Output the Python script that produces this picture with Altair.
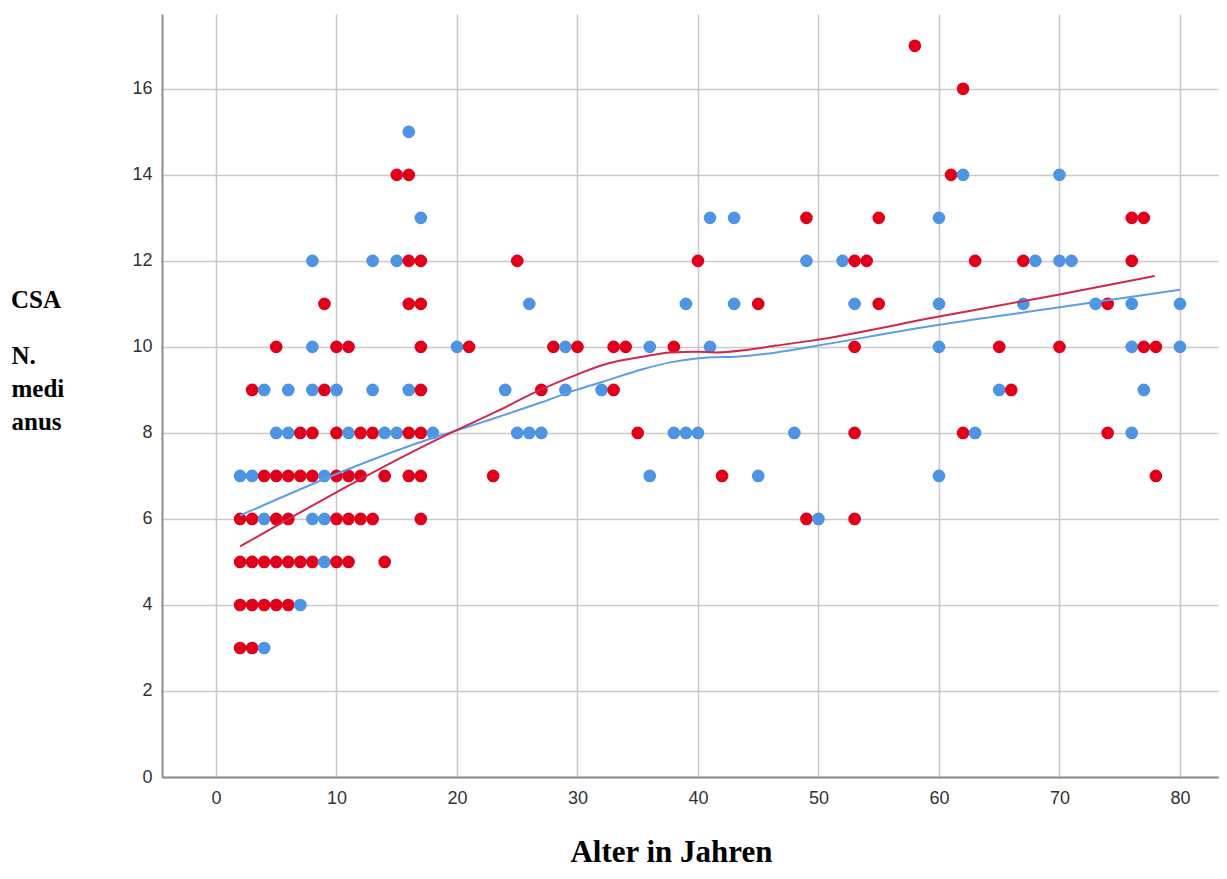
import altair as alt
import pandas as pd

# ---- scatter data (age in years, CSA N. medianus) ----
blue_age = [4, 7, 9, 4, 8, 9, 50, 2, 3, 9, 36, 45, 60,
            5, 6, 11, 14, 15, 18, 25, 26, 27, 38, 39, 40, 48, 63, 76,
            4, 6, 8, 10, 13, 16, 24, 29, 32, 65, 77,
            8, 20, 29, 36, 41, 60, 76, 80,
            26, 39, 43, 53, 60, 67, 73, 76, 80,
            8, 13, 15, 49, 52, 68, 70, 71,
            17, 41, 43, 60,
            62, 70,
            16]
blue_val = [3, 4, 5, 6, 6, 6, 6, 7, 7, 7, 7, 7, 7,
            8, 8, 8, 8, 8, 8, 8, 8, 8, 8, 8, 8, 8, 8, 8,
            9, 9, 9, 9, 9, 9, 9, 9, 9, 9, 9,
            10, 10, 10, 10, 10, 10, 10, 10,
            11, 11, 11, 11, 11, 11, 11, 11, 11,
            12, 12, 12, 12, 12, 12, 12, 12,
            13, 13, 13, 13,
            14, 14,
            15]

red_age = [2, 3,
           2, 3, 4, 5, 6,
           2, 3, 4, 5, 6, 7, 8, 10, 11, 14,
           2, 3, 5, 6, 10, 11, 12, 13, 17, 49, 53,
           4, 5, 6, 7, 8, 10, 11, 12, 14, 16, 17, 23, 42, 78,
           7, 8, 10, 12, 13, 16, 17, 35, 53, 62, 74,
           3, 9, 17, 27, 33, 66,
           5, 10, 11, 17, 21, 28, 30, 33, 34, 38, 53, 65, 70, 77, 78,
           9, 16, 17, 45, 55, 74,
           16, 17, 25, 40, 53, 54, 63, 67, 76,
           49, 55, 76, 77,
           15, 16, 61,
           62,
           58]
red_val = [3, 3,
           4, 4, 4, 4, 4,
           5, 5, 5, 5, 5, 5, 5, 5, 5, 5,
           6, 6, 6, 6, 6, 6, 6, 6, 6, 6, 6,
           7, 7, 7, 7, 7, 7, 7, 7, 7, 7, 7, 7, 7, 7,
           8, 8, 8, 8, 8, 8, 8, 8, 8, 8, 8,
           9, 9, 9, 9, 9, 9,
           10, 10, 10, 10, 10, 10, 10, 10, 10, 10, 10, 10, 10, 10, 10,
           11, 11, 11, 11, 11, 11,
           12, 12, 12, 12, 12, 12, 12, 12, 12,
           13, 13, 13, 13,
           14, 14, 14,
           16,
           17]

# ---- fit lines ----
blue_fit_age = [2, 18.3, 20, 23.3, 26.9, 29.9, 32.1, 35.4, 37.7, 39.9, 44, 46.5, 49.3, 59.9, 70, 80]
blue_fit_val = [6.08, 7.91, 8.06, 8.36, 8.7, 9.0, 9.19, 9.48, 9.64, 9.73, 9.79, 9.87, 10.0, 10.51, 10.92, 11.33]
red_fit_age = [2, 19.4, 23.3, 26.9, 29.9, 32.1, 35.4, 37.7, 39.9, 41.5, 44, 46.5, 49.3, 59.9, 70, 77.9]
red_fit_val = [5.36, 7.99, 8.5, 9.0, 9.35, 9.58, 9.77, 9.87, 9.89, 9.87, 9.93, 10.03, 10.14, 10.7, 11.22, 11.65]

groups = ["Gruppe 1", "Gruppe 2"]
point_colors = ["#4f93e3", "#e0001c"]
line_colors = ["#5c9ceb", "#d2264b"]

pts = pd.concat([
    pd.DataFrame({"Alter": blue_age, "CSA": blue_val, "Gruppe": groups[0]}),
    pd.DataFrame({"Alter": red_age, "CSA": red_val, "Gruppe": groups[1]}),
], ignore_index=True)
pts["order"] = range(len(pts))
pts = pts.sort_values(["Alter", "order"], kind="stable").reset_index(drop=True)

fits = pd.concat([
    pd.DataFrame({"Alter": blue_fit_age, "CSA": blue_fit_val, "Gruppe": groups[0]}),
    pd.DataFrame({"Alter": red_fit_age, "CSA": red_fit_val, "Gruppe": groups[1]}),
], ignore_index=True)

x_scale = alt.Scale(domain=[-4.48, 83.24], nice=False, zero=False)
y_scale = alt.Scale(domain=[0, 17.74], nice=False)

serif = "Liberation Serif"

x_enc = alt.X(
    "Alter:Q", scale=x_scale,
    axis=alt.Axis(
        values=list(range(0, 81, 10)), title="Alter in Jahren",
        titleFont=serif, titleFontSize=31, titleFontWeight="bold",
        titleColor="#000000", titleAnchor="start", titleAlign="center",
        titleX=509, titleY=84, titleBaseline="alphabetic",
        labelPadding=12,
    ),
)
y_enc = alt.Y(
    "CSA:Q", scale=y_scale,
    axis=alt.Axis(
        values=list(range(0, 17, 2)), title=["N.", "medi", "anus"],
        titleFont=serif, titleFontSize=25, titleFontWeight="bold",
        titleColor="#000000", titleAngle=0, titleAlign="left",
        titleBaseline="alphabetic", titleX=-151, titleY=349, titleLineHeight=33,
        labelPadding=10,
    ),
)

points = alt.Chart(pts).mark_circle(size=160, opacity=1).encode(
    x=x_enc, y=y_enc,
    color=alt.Color("Gruppe:N", scale=alt.Scale(domain=groups, range=point_colors), legend=None),
    order=alt.Order("index:Q"),
).transform_window(index="row_number()")

lines = alt.Chart(fits).mark_line(strokeWidth=2, interpolate="monotone").encode(
    x="Alter:Q", y="CSA:Q",
    stroke=alt.Stroke("Gruppe:N", scale=alt.Scale(domain=groups, range=line_colors), legend=None),
)

chart = alt.layer(points, lines).properties(
    width=1057, height=763,
    autosize=alt.AutoSizeParams(type="none"),
    padding={"left": 154, "top": 6, "right": 0, "bottom": 94},
    background="#ffffff",
    title=alt.TitleParams(
        text="CSA", orient="top", anchor="start", frame="group",
        offset=0, dx=-151, dy=319, baseline="alphabetic", align="left",
        font=serif, fontSize=25, fontWeight="bold", color="#000000",
    ),
).configure_view(stroke=None).configure_axis(
    grid=True, gridColor="#c9c9c9", gridWidth=1.6,
    domainColor="#8c8c8c", domainWidth=2,
    ticks=False,
    labelFont="Liberation Sans", labelFontSize=18, labelColor="#333333",
)

chart.save("out.html", embed_options={"renderer": "svg", "actions": False})
